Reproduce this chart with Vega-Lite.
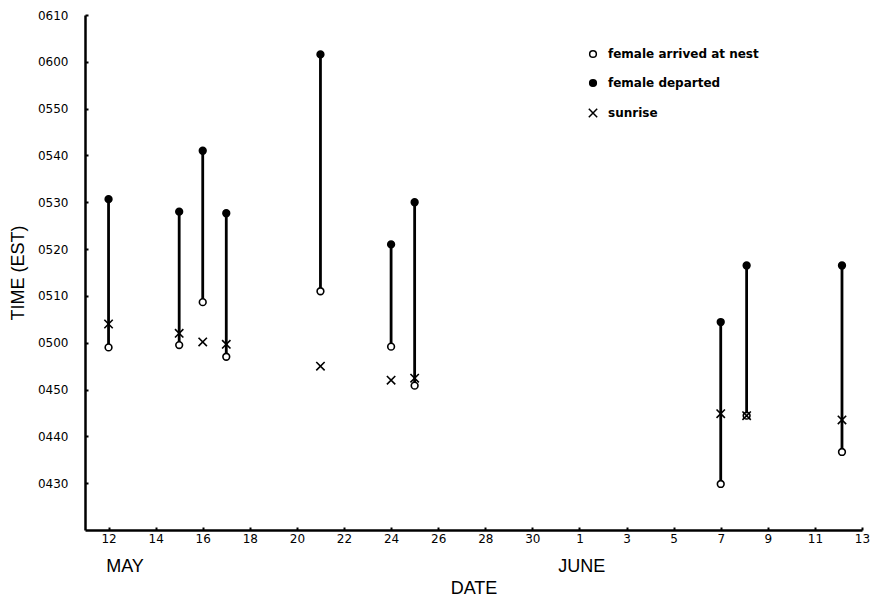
{
  "$schema": "https://vega.github.io/schema/vega-lite/v6.json",
  "width": 777,
  "height": 515,
  "autosize": {"type": "none"},
  "padding": {"left": 85, "top": 15, "right": 13, "bottom": 71},
  "background": "white",
  "config": {
    "view": {"stroke": null},
    "font": "Liberation Sans",
    "axisY": {
      "grid": false,
      "domainColor": "black", "domainWidth": 2.5,
      "tickColor": "black", "tickWidth": 2, "tickSize": -3,
      "labelFont": "DejaVu Sans", "labelFontSize": 12, "labelColor": "black",
      "labelPadding": 20, "labelFlush": false, "labelOverlap": false,
      "titleFont": "Liberation Sans", "titleFontSize": 18, "titleFontWeight": "normal", "titleColor": "black",
      "titlePadding": 10
    },
    "axisX": {
      "grid": false,
      "domainColor": "black", "domainWidth": 2.5,
      "tickColor": "black", "tickWidth": 2, "tickSize": -3,
      "labelFont": "DejaVu Sans", "labelFontSize": 12, "labelColor": "black",
      "labelPadding": 6, "labelFlush": false, "labelOverlap": false,
      "titleFont": "Liberation Sans", "titleFontSize": 18, "titleFontWeight": "normal", "titleColor": "black",
      "titlePadding": 35
    }
  },
  "datasets": {
    "obs": [
      {"day": 12, "female arrived at nest": "1970-01-01T04:59:00", "female departed": "1970-01-01T05:30:40", "sunrise": "1970-01-01T05:04:00"},
      {"day": 15, "female arrived at nest": "1970-01-01T04:59:30", "female departed": "1970-01-01T05:28:00", "sunrise": "1970-01-01T05:02:00"},
      {"day": 16, "female arrived at nest": "1970-01-01T05:08:40", "female departed": "1970-01-01T05:41:00", "sunrise": "1970-01-01T05:00:10"},
      {"day": 17, "female arrived at nest": "1970-01-01T04:57:00", "female departed": "1970-01-01T05:27:40", "sunrise": "1970-01-01T04:59:40"},
      {"day": 21, "female arrived at nest": "1970-01-01T05:11:00", "female departed": "1970-01-01T06:01:35", "sunrise": "1970-01-01T04:55:00"},
      {"day": 24, "female arrived at nest": "1970-01-01T04:59:10", "female departed": "1970-01-01T05:21:00", "sunrise": "1970-01-01T04:52:00"},
      {"day": 25, "female arrived at nest": "1970-01-01T04:50:50", "female departed": "1970-01-01T05:30:00", "sunrise": "1970-01-01T04:52:25"},
      {"day": 38, "female arrived at nest": "1970-01-01T04:29:50", "female departed": "1970-01-01T05:04:25", "sunrise": "1970-01-01T04:44:50"},
      {"day": 39.1, "female arrived at nest": "1970-01-01T04:44:25", "female departed": "1970-01-01T05:16:30", "sunrise": "1970-01-01T04:44:25"},
      {"day": 43.15, "female arrived at nest": "1970-01-01T04:36:40", "female departed": "1970-01-01T05:16:30", "sunrise": "1970-01-01T04:43:30"}
    ],
    "months": [
      {"month": "MAY", "day": 12.7},
      {"month": "JUNE", "day": 32.1}
    ]
  },
  "layer": [
    {
      "data": {"name": "obs", "format": {"parse": {"female arrived at nest": "date", "female departed": "date", "sunrise": "date"}}},
      "mark": {"type": "rule", "color": "black", "strokeWidth": 2.8},
      "encoding": {
        "x": {
          "field": "day", "type": "quantitative",
          "scale": {"domain": [11, 44], "nice": false, "zero": false},
          "axis": {
            "title": "DATE",
            "values": [12,13,14,15,16,17,18,19,20,21,22,23,24,25,26,27,28,29,30,31,32,33,34,35,36,37,38,39,40,41,42,43,44],
            "labelExpr": "datum.value % 2 == 0 ? (datum.value > 31 ? datum.value - 31 : datum.value) : ''"
          }
        },
        "y": {
          "field": "female arrived at nest", "type": "temporal",
          "scale": {
            "domain": [
              {"year": 1970, "month": 1, "date": 1, "hours": 4, "minutes": 20},
              {"year": 1970, "month": 1, "date": 1, "hours": 6, "minutes": 10}
            ],
            "nice": false
          },
          "axis": {
            "title": "TIME (EST)",
            "format": "%H%M",
            "values": [
              {"year": 1970, "month": 1, "date": 1, "hours": 4, "minutes": 30},
              {"year": 1970, "month": 1, "date": 1, "hours": 4, "minutes": 40},
              {"year": 1970, "month": 1, "date": 1, "hours": 4, "minutes": 50},
              {"year": 1970, "month": 1, "date": 1, "hours": 5, "minutes": 0},
              {"year": 1970, "month": 1, "date": 1, "hours": 5, "minutes": 10},
              {"year": 1970, "month": 1, "date": 1, "hours": 5, "minutes": 20},
              {"year": 1970, "month": 1, "date": 1, "hours": 5, "minutes": 30},
              {"year": 1970, "month": 1, "date": 1, "hours": 5, "minutes": 40},
              {"year": 1970, "month": 1, "date": 1, "hours": 5, "minutes": 50},
              {"year": 1970, "month": 1, "date": 1, "hours": 6, "minutes": 0},
              {"year": 1970, "month": 1, "date": 1, "hours": 6, "minutes": 10}
            ]
          }
        },
        "y2": {"field": "female departed"}
      }
    },
    {
      "data": {"name": "obs", "format": {"parse": {"female arrived at nest": "date", "female departed": "date", "sunrise": "date"}}},
      "transform": [{"fold": ["female arrived at nest", "female departed", "sunrise"], "as": ["event", "time"]}],
      "mark": {"type": "point", "stroke": "black", "strokeWidth": 1.6, "opacity": 1, "size": 45},
      "encoding": {
        "x": {"field": "day", "type": "quantitative"},
        "y": {"field": "time", "type": "temporal"},
        "shape": {
          "field": "event", "type": "nominal",
          "scale": {"domain": ["female arrived at nest", "female departed", "sunrise"], "range": ["circle", "circle", "M-1.25,-1.25L1.25,1.25M-1.25,1.25L1.25,-1.25"]},
          "legend": {
            "title": null, "orient": "none", "legendX": 502, "legendY": 33,
            "labelFont": "DejaVu Sans", "labelFontWeight": "bold", "labelFontSize": 12, "labelColor": "black",
            "symbolSize": 45, "rowPadding": 15, "labelOffset": 9,
            "encode": {"symbols": {"update": {"stroke": {"value": "black"}, "strokeWidth": {"value": 1.6}}}}
          }
        },
        "fill": {
          "field": "event", "type": "nominal",
          "scale": {"domain": ["female arrived at nest", "female departed", "sunrise"], "range": ["white", "black", "transparent"]},
          "legend": {
            "title": null, "orient": "none", "legendX": 502, "legendY": 33,
            "labelFont": "DejaVu Sans", "labelFontWeight": "bold", "labelFontSize": 12, "labelColor": "black",
            "symbolSize": 45, "rowPadding": 15, "labelOffset": 9,
            "encode": {"symbols": {"update": {"stroke": {"value": "black"}, "strokeWidth": {"value": 1.6}}}}
          }
        }
      }
    },
    {
      "data": {"name": "months"},
      "mark": {"type": "text", "font": "Liberation Sans", "fontSize": 18, "color": "black", "align": "center", "baseline": "middle"},
      "encoding": {
        "x": {"field": "day", "type": "quantitative"},
        "y": {"datum": {"year": 1970, "month": 1, "date": 1, "hours": 4, "minutes": 12}, "type": "temporal"},
        "text": {"field": "month"}
      }
    }
  ]
}
